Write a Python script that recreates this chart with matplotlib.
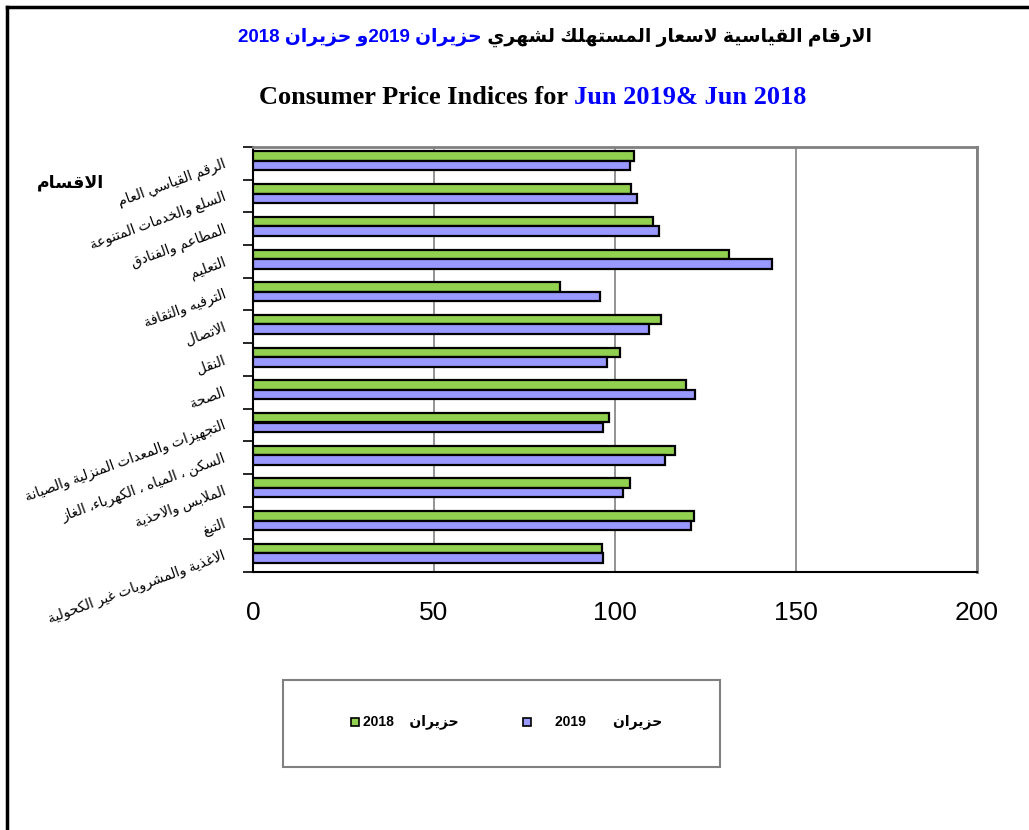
import numpy as np
import matplotlib
matplotlib.use("Agg")
import matplotlib.pyplot as plt
from matplotlib.patches import Rectangle
from matplotlib.lines import Line2D

# ── data (top to bottom as shown) ──
categories = [
    "الرقم القياسي العام",
    "السلع والخدمات المتنوعة",
    "المطاعم والفنادق",
    "التعليم",
    "الترفيه والثقافة",
    "الاتصال",
    "النقل",
    "الصحة",
    "التجهيزات والمعدات المنزلية والصيانة",
    "السكن ، المياه ، الكهرباء، الغاز",
    "الملابس والاحذية",
    "التبغ",
    "الاغذية والمشروبات غير الكحولية",
]
jun_2018 = [105.3, 104.3, 110.4, 131.5, 84.7, 112.8, 101.5, 119.5, 98.3, 116.6, 104.0, 121.9, 96.4]
jun_2019 = [104.2, 106.0, 112.1, 143.4, 95.9, 109.5, 97.8, 122.0, 96.6, 113.9, 102.3, 121.1, 96.7]
series_labels = ["حزيران 2018", "حزيران 2019"]
x_ticks = [0, 50, 100, 150, 200]

title_ar_black = "الارقام القياسية لاسعار المستهلك لشهري "
title_ar_blue = "حزيران 2019و حزيران 2018"
title_en_black = "Consumer Price Indices for "
title_en_blue = "Jun 2019& Jun 2018"
axis_title = "الاقسام"

GREEN = "#92D050"
BLUE = "#9999FF"
TITLE_BLUE = "#0000FF"
AR_FONT = ["Liberation Sans", "DejaVu Sans"]

# ── minimal arabic shaping + rtl ordering (matplotlib has no bidi) ──
_forms = [("ء", 0xFE80, 1), ("آ", 0xFE81, 2), ("أ", 0xFE83, 2), ("ؤ", 0xFE85, 2),
          ("إ", 0xFE87, 2), ("ئ", 0xFE89, 4), ("ا", 0xFE8D, 2), ("ب", 0xFE8F, 4),
          ("ة", 0xFE93, 2), ("ت", 0xFE95, 4), ("ث", 0xFE99, 4), ("ج", 0xFE9D, 4),
          ("ح", 0xFEA1, 4), ("خ", 0xFEA5, 4), ("د", 0xFEA9, 2), ("ذ", 0xFEAB, 2),
          ("ر", 0xFEAD, 2), ("ز", 0xFEAF, 2), ("س", 0xFEB1, 4), ("ش", 0xFEB5, 4),
          ("ص", 0xFEB9, 4), ("ض", 0xFEBD, 4), ("ط", 0xFEC1, 4), ("ظ", 0xFEC5, 4),
          ("ع", 0xFEC9, 4), ("غ", 0xFECD, 4), ("ف", 0xFED1, 4), ("ق", 0xFED5, 4),
          ("ك", 0xFED9, 4), ("ل", 0xFEDD, 4), ("م", 0xFEE1, 4), ("ن", 0xFEE5, 4),
          ("ه", 0xFEE9, 4), ("و", 0xFEED, 2), ("ى", 0xFEEF, 2), ("ي", 0xFEF1, 4)]
FORMS = {c: (b, k) for c, b, k in _forms}
LAM_ALEF = {"ا": (0xFEFB, 0xFEFC), "أ": (0xFEF7, 0xFEF8),
            "إ": (0xFEF9, 0xFEFA), "آ": (0xFEF5, 0xFEF6)}


def ar(s):
    out = []
    n = len(s)
    i = 0
    while i < n:
        c = s[i]
        if c not in FORMS:
            out.append(c)
            i += 1
            continue
        prev = s[i - 1] if i > 0 else ""
        pj = prev in FORMS and FORMS[prev][1] == 4
        if c == "ل" and i + 1 < n and s[i + 1] in LAM_ALEF:
            iso, fin = LAM_ALEF[s[i + 1]]
            out.append(chr(fin if pj else iso))
            i += 2
            continue
        base, k = FORMS[c]
        nxt = s[i + 1] if i + 1 < n else ""
        nj = k == 4 and nxt in FORMS and FORMS[nxt][1] > 1
        if k == 1:
            f = 0
        elif k == 2:
            f = 1 if pj else 0
        else:
            f = 3 if (pj and nj) else 1 if pj else 2 if nj else 0
        out.append(chr(base + f))
        i += 1
    vis = "".join(reversed(out))
    # put digit / latin runs back in left-to-right order
    res, run = [], []
    for ch in vis:
        if ch.isascii() and (ch.isalnum() or ch in ".&"):
            run.append(ch)
        else:
            if run:
                res.append("".join(reversed(run)))
                run = []
            res.append(ch)
    if run:
        res.append("".join(reversed(run)))
    return "".join(res)


# ── figure ──
fig = plt.figure(figsize=(10.29, 8.30), dpi=100, facecolor="white")

# outer frame
fig.add_artist(Line2D([0.0068, 0.0068], [0, 0.9916], color="black", lw=2.5, transform=fig.transFigure))
fig.add_artist(Line2D([0.0068, 1.0], [0.9916, 0.9916], color="black", lw=2.5, transform=fig.transFigure))

ax = fig.add_axes([0.2459, 0.3108, 0.7036, 0.5121])

n = len(categories)
pos = np.arange(n)[::-1]
h = 0.29
ax.barh(pos + 0.219, jun_2018, height=h, color=GREEN, edgecolor="black", linewidth=1.6, zorder=3)
ax.barh(pos - 0.072, jun_2019, height=h, color=BLUE, edgecolor="black", linewidth=1.6, zorder=3)

ax.set_xlim(0, 200)
ax.set_ylim(-0.5, n - 0.5)
ax.set_xticks(x_ticks)
ax.set_xticklabels([str(t) for t in x_ticks], fontsize=19, family="Liberation Sans")
ax.tick_params(axis="x", length=0, pad=21)
ax.xaxis.grid(True, color="#808080", linewidth=1.2, zorder=0)

ax.set_yticks(pos)
ax.set_yticklabels([ar(c) for c in categories], family=AR_FONT, fontsize=10,
                   rotation=20, rotation_mode="anchor", ha="right", va="center")
ax.tick_params(axis="y", length=0, pad=20)
ax.set_yticks(np.arange(n + 1) - 0.5, minor=True)
ax.tick_params(axis="y", which="minor", length=7, width=1.2, color="black")

for side in ["top", "right"]:
    ax.spines[side].set_color("#808080")
    ax.spines[side].set_linewidth(2)
for side in ["left", "bottom"]:
    ax.spines[side].set_color("black")
    ax.spines[side].set_linewidth(1.5)

fig.text(70 / 1029, 1 - 183 / 830, ar(axis_title), fontsize=12.5, fontweight="bold",
         family=AR_FONT, ha="center", va="center")

# ── titles (pieces laid left to right, then centred) ──
fig.canvas.draw()
renderer = fig.canvas.get_renderer()


def piece_row(pieces, xc, y, **kw):
    texts = []
    x = 0.0
    for s, col in pieces:
        t = fig.text(x, y, s, color=col, va="center", ha="left", **kw)
        w = t.get_window_extent(renderer).width / fig.bbox.width
        texts.append((t, w))
        x += w
    x0 = xc - x / 2
    for t, w in texts:
        t.set_x(x0)
        x0 += w


piece_row([(ar(title_ar_blue), TITLE_BLUE), (ar(title_ar_black), "black")],
          555 / 1029, 1 - 37 / 830, fontsize=13.5, fontweight="bold", family=AR_FONT)
piece_row([(title_en_black, "black"), (title_en_blue, TITLE_BLUE)],
          533 / 1029, 1 - 98 / 830, fontsize=19, fontweight="bold", family="Liberation Serif")

# ── legend box ──
fig.add_artist(Rectangle((283 / 1029, 1 - 767 / 830), 437 / 1029, 87 / 830, fill=False,
                         edgecolor="#808080", linewidth=1.5, transform=fig.transFigure))
ly = 1 - 722 / 830
for xm, col in [(355, GREEN), (527, BLUE)]:
    fig.add_artist(Rectangle(((xm - 4) / 1029, ly - 4 / 830), 8 / 1029, 8 / 830, facecolor=col,
                             edgecolor="black", linewidth=1.2, transform=fig.transFigure))
fig.text(363 / 1029, ly, ar(series_labels[0]).replace(" ", "    "), fontsize=10, fontweight="bold",
         family=AR_FONT, ha="left", va="center")
fig.text(555 / 1029, ly, ar(series_labels[1]).replace(" ", "       "), fontsize=10, fontweight="bold",
         family=AR_FONT, ha="left", va="center")

plt.savefig("out.png", dpi=100, facecolor="white")
